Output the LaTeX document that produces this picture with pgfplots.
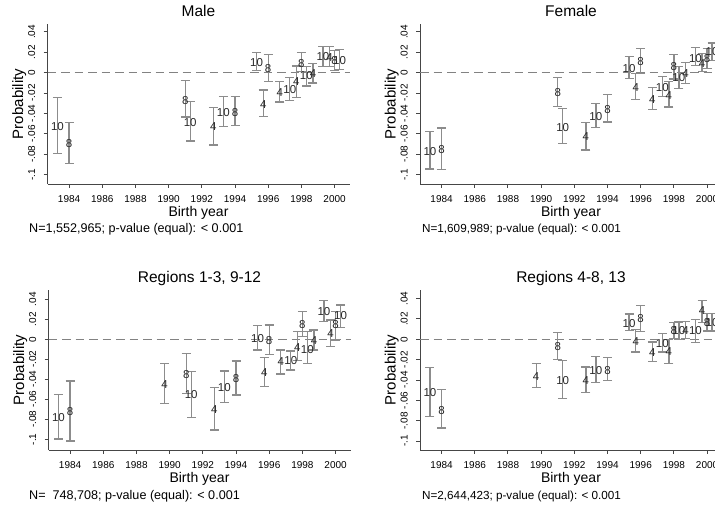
\documentclass[border=0pt]{standalone}
\usepackage{fontspec}
\setmainfont{Liberation Sans}
\usepackage{pgfplots}
\pgfplotsset{compat=1.18}
\usepackage{pgfplotstable}
\definecolor{barc}{RGB}{140,140,140}
\definecolor{labc}{RGB}{40,40,40}
\definecolor{axc}{RGB}{70,70,70}
\definecolor{dashc}{RGB}{130,130,130}

\pgfplotstableread{
x y hi lo lab
1983.3 -0.0527 -0.0247 -0.0797 10
1984.0 -0.0698 -0.0487 -0.0889 8
1991.0 -0.0270 -0.0079 -0.0435 8
1991.3 -0.0490 -0.0280 -0.0670 10
1992.7 -0.0530 -0.0340 -0.0710 4
1993.3 -0.0395 -0.0237 -0.0527 10
1994.0 -0.0390 -0.0237 -0.0520 8
1995.3 0.0102 0.0200 0.0020 10
1995.7 -0.0310 -0.0170 -0.0430 4
1996.0 0.0036 0.0175 -0.0086 8
1996.7 -0.0198 -0.0086 -0.0287 4
1997.3 -0.0165 -0.0046 -0.0270 10
1997.7 -0.0090 0.0066 -0.0244 4
1998.0 0.0086 0.0200 0.0010 8
1998.3 -0.0033 0.0060 -0.0132 10
1998.7 -0.0007 0.0090 -0.0100 4
1999.3 0.0160 0.0260 0.0060 10
1999.7 0.0150 0.0260 0.0060 4
2000.0 0.0120 0.0220 0.0020 8
2000.3 0.0120 0.0230 0.0030 10
}\male

\pgfplotstableread{
x y hi lo lab
1983.3 -0.0770 -0.0576 -0.0945 10
1984.0 -0.0758 -0.0543 -0.0950 8
1991.0 -0.0194 -0.0046 -0.0330 8
1991.3 -0.0534 -0.0352 -0.0698 10
1992.7 -0.0630 -0.0490 -0.0758 4
1993.3 -0.0428 -0.0303 -0.0537 10
1994.0 -0.0359 -0.0214 -0.0484 8
1995.3 0.0043 0.0158 -0.0056 10
1995.7 -0.0145 -0.0007 -0.0260 4
1996.0 0.0105 0.0234 -0.0007 8
1996.7 -0.0264 -0.0148 -0.0362 4
1997.3 -0.0145 -0.0040 -0.0237 10
1997.7 -0.0220 -0.0089 -0.0336 4
1998.0 0.0060 0.0175 -0.0063 8
1998.3 -0.0046 0.0060 -0.0155 10
1998.7 -0.0013 0.0099 -0.0105 4
1999.3 0.0142 0.0247 0.0069 10
1999.7 0.0092 0.0190 0.0010 4
2000.0 0.0142 0.0234 0.0043 8
2000.3 0.0207 0.0290 0.0120 10
}\female

\pgfplotstableread{
x y hi lo lab
1983.3 -0.0780 -0.0550 -0.0997 10
1984.0 -0.0723 -0.0417 -0.1017 8
1989.7 -0.0457 -0.0243 -0.0643 4
1991.0 -0.0357 -0.0140 -0.0540 8
1991.3 -0.0557 -0.0323 -0.0780 10
1992.7 -0.0707 -0.0480 -0.0907 4
1993.3 -0.0483 -0.0317 -0.0633 10
1994.0 -0.0397 -0.0217 -0.0557 8
1995.3 0.0010 0.0137 -0.0107 10
1995.7 -0.0330 -0.0183 -0.0473 4
1996.0 -0.0013 0.0143 -0.0150 8
1996.7 -0.0223 -0.0107 -0.0347 4
1997.3 -0.0213 -0.0117 -0.0307 10
1997.7 -0.0080 0.0077 -0.0213 4
1998.0 0.0143 0.0277 0.0027 8
1998.3 -0.0107 0.0077 -0.0240 10
1998.7 -0.0013 0.0093 -0.0107 4
1999.3 0.0277 0.0387 0.0177 10
1999.7 0.0053 0.0193 -0.0073 4
2000.0 0.0150 0.0277 -0.0007 8
2000.3 0.0233 0.0343 0.0120 10
}\regA

\pgfplotstableread{
x y hi lo lab
1983.3 -0.0520 -0.0275 -0.0761 10
1984.0 -0.0695 -0.0490 -0.0870 8
1989.7 -0.0364 -0.0235 -0.0473 4
1991.0 -0.0076 0.0066 -0.0199 8
1991.3 -0.0404 -0.0209 -0.0579 10
1992.7 -0.0404 -0.0271 -0.0520 4
1993.3 -0.0305 -0.0166 -0.0424 10
1994.0 -0.0305 -0.0182 -0.0407 8
1995.3 0.0159 0.0248 0.0089 10
1995.7 -0.0023 0.0099 -0.0126 4
1996.0 0.0199 0.0331 0.0076 8
1996.7 -0.0126 -0.0026 -0.0215 4
1997.3 -0.0040 0.0060 -0.0126 10
1997.7 -0.0116 0.0000 -0.0238 4
1998.0 0.0083 0.0166 0.0007 8
1998.3 0.0083 0.0170 0.0000 10
1998.7 0.0090 0.0172 0.0007 4
1999.3 0.0083 0.0192 -0.0033 10
1999.7 0.0280 0.0380 0.0166 4
2000.0 0.0166 0.0250 0.0080 8
2000.3 0.0160 0.0250 0.0080 10
}\regB

\pgfplotsset{
 panel/.style={
  scale only axis, width=302pt, height=160pt,
  xmin=1982.7, xmax=2000.9,
  axis x line=bottom, axis y line=left,
  axis line style={-, draw=axc, line width=0.9pt},
  tick align=outside, major tick length=4pt,
  every tick/.style={draw=axc, line width=0.9pt},
  xtick={1984,1986,...,2000},
  ytick={-0.1,-0.08,-0.06,-0.04,-0.02,0,0.02,0.04},
  yticklabels={-.1,-.08,-.06,-.04,-.02,0,.02,.04},
  /pgf/number format/assume math mode=true,
  /pgf/number format/1000 sep={},
  xticklabel style={font=\fontsize{10}{12}\selectfont, anchor=north, yshift=-4pt},
  yticklabel style={font=\fontsize{10}{12}\selectfont, xshift=-8.5pt, rotate=90, anchor=base},
  every axis title/.style={at={(axis description cs:0.5,1.047)}, anchor=base, font=\fontsize{15.5}{18}\selectfont},
  xlabel style={at={(axis description cs:0.5,-0.203)}, anchor=base, font=\fontsize{14}{16}\selectfont},
  ylabel style={at={(axis description cs:-0.081,0.5)}, anchor=base, font=\fontsize{15}{17}\selectfont},
  xlabel={Birth year}, ylabel={Probability},
  clip=false,
 },
 est/.style={only marks, mark=none, point meta=explicit symbolic, nodes near coords,
  every node near coord/.style={anchor=center, inner sep=0pt, font=\fontsize{11.5}{12}\selectfont, text=labc},
  error bars/.cd, y dir=both, y explicit,
  error bar style={draw=barc, line width=1.3pt, solid},
  error mark options={rotate=90, draw=barc, line width=1.3pt, mark size=4.5pt}},
 zline/.style={draw=dashc, line width=1.2pt, dash pattern=on 8.5pt off 5pt},
}

\begin{document}
\begin{tikzpicture}
\path[use as bounding box] (0,0) rectangle (715pt,510pt);
\clip (0,0) rectangle (715pt,510pt);

\begin{axis}[panel, at={(47.5pt,326pt)}, anchor=south west, ymin=-0.1093, ymax=0.0478, title={Male}]
\addplot[zline] coordinates {(1982.7,0) (2000.9,0)};
\addplot[est] table[x=x, y=y, meta=lab, y error plus expr=\thisrow{hi}-\thisrow{y}, y error minus expr=\thisrow{y}-\thisrow{lo}] {\male};
\end{axis}

\begin{axis}[panel, at={(420pt,326pt)}, anchor=south west, ymin=-0.1093, ymax=0.0478, title={Female}]
\addplot[zline] coordinates {(1982.7,0) (2000.9,0)};
\addplot[est] table[x=x, y=y, meta=lab, y error plus expr=\thisrow{hi}-\thisrow{y}, y error minus expr=\thisrow{y}-\thisrow{lo}] {\female};
\end{axis}

\begin{axis}[panel, at={(48.5pt,60pt)}, anchor=south west, ymin=-0.1107, ymax=0.0493, title={Regions 1-3, 9-12}]
\addplot[zline] coordinates {(1982.7,0) (2000.9,0)};
\addplot[est] table[x=x, y=y, meta=lab, y error plus expr=\thisrow{hi}-\thisrow{y}, y error minus expr=\thisrow{y}-\thisrow{lo}] {\regA};
\end{axis}

\begin{axis}[panel, at={(420pt,60pt)}, anchor=south west, ymin=-0.1087, ymax=0.0484, title={Regions 4-8, 13}]
\addplot[zline] coordinates {(1982.7,0) (2000.9,0)};
\addplot[est] table[x=x, y=y, meta=lab, y error plus expr=\thisrow{hi}-\thisrow{y}, y error minus expr=\thisrow{y}-\thisrow{lo}] {\regB};
\end{axis}

\node[anchor=base west, inner sep=0pt, font=\fontsize{12.6}{14}\selectfont] at (29pt,277pt) {N=1,552,965; p-value (equal): < 0.001};
\node[anchor=base west, inner sep=0pt, font=\fontsize{11.7}{14}\selectfont] at (422pt,277pt) {N=1,609,989; p-value (equal): < 0.001};
\node[anchor=base west, inner sep=0pt, font=\fontsize{12.6}{14}\selectfont] at (29pt,10pt) {N=\ \ 748,708; p-value (equal): < 0.001};
\node[anchor=base west, inner sep=0pt, font=\fontsize{11.7}{14}\selectfont] at (422pt,10pt) {N=2,644,423; p-value (equal): < 0.001};
\end{tikzpicture}
\end{document}
